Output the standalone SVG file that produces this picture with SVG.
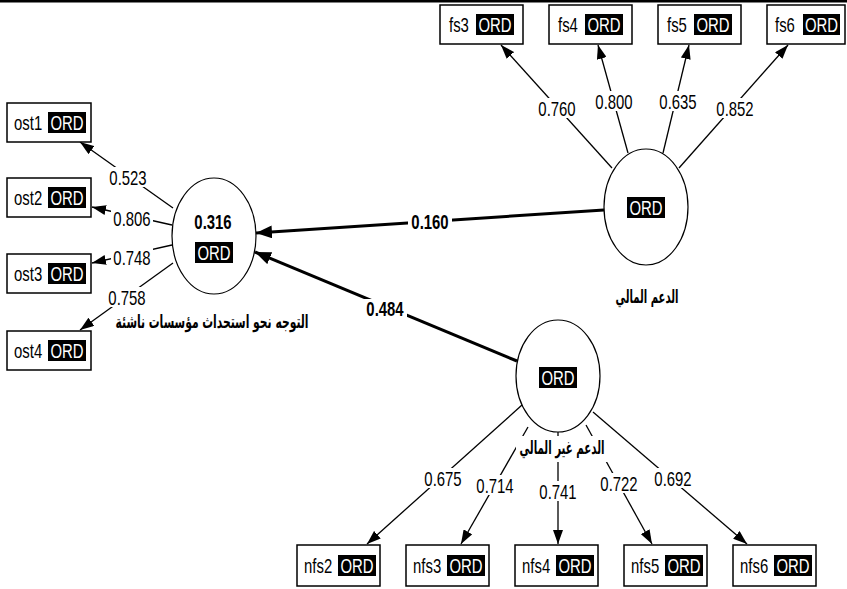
<svg xmlns="http://www.w3.org/2000/svg" width="847" height="589" viewBox="0 0 847 589">
<defs>
<style>
.t{font-family:"Liberation Sans",Arial,sans-serif;font-size:21px;fill:#000}
.b{font-weight:bold}
.w{fill:#fff}
.ar{font-family:"DejaVu Sans","Noto Sans",sans-serif;font-weight:bold;font-size:13px;fill:#000}
.box{fill:#fff;stroke:#000;stroke-width:1.5}
.ord{fill:#000}
.lv{fill:#fff;stroke:#000;stroke-width:1.2}
.ln{fill:none;stroke:#000;stroke-width:1.3}
.pth{fill:none;stroke:#000;stroke-width:3}
.bg{fill:#fff}
</style>
<marker id="ah" markerWidth="14" markerHeight="10" refX="14" refY="5" orient="auto" markerUnits="userSpaceOnUse"><path d="M0,0L14,5L0,10z" fill="#000"/></marker>
<marker id="ahb" markerWidth="16" markerHeight="13" refX="16" refY="6.5" orient="auto" markerUnits="userSpaceOnUse"><path d="M0,0L16,6.5L0,13z" fill="#000"/></marker>
</defs>
<rect x="0" y="0" width="847" height="2.5" fill="#000"/>

<g id="connectors">
<line class="pth" x1="604" y1="210" x2="256" y2="233" marker-end="url(#ahb)"/>
<line class="pth" x1="517" y1="361" x2="255" y2="252" marker-end="url(#ahb)"/>
<line class="ln" x1="612" y1="168" x2="501" y2="45" marker-end="url(#ah)"/>
<line class="ln" x1="628" y1="153" x2="598" y2="45" marker-end="url(#ah)"/>
<line class="ln" x1="663" y1="153" x2="689" y2="45" marker-end="url(#ah)"/>
<line class="ln" x1="679" y1="168" x2="788" y2="45" marker-end="url(#ah)"/>
<line class="ln" x1="173" y1="208" x2="80" y2="142" marker-end="url(#ah)"/>
<line class="ln" x1="172" y1="225" x2="92" y2="207" marker-end="url(#ah)"/>
<line class="ln" x1="172" y1="245" x2="92" y2="263" marker-end="url(#ah)"/>
<line class="ln" x1="173" y1="263" x2="80" y2="330" marker-end="url(#ah)"/>
<line class="ln" x1="522" y1="405" x2="367" y2="544" marker-end="url(#ah)"/>
<line class="ln" x1="528" y1="427" x2="461" y2="544" marker-end="url(#ah)"/>
<line class="ln" x1="558" y1="432" x2="558" y2="544" marker-end="url(#ah)"/>
<line class="ln" x1="586" y1="425" x2="652" y2="544" marker-end="url(#ah)"/>
<line class="ln" x1="593" y1="412" x2="747" y2="544" marker-end="url(#ah)"/>
<g id="labels">
<rect class="bg" x="408" y="213" width="44" height="20"/>
<text class="t b" text-anchor="middle" transform="translate(430 229) scale(0.71 1)">0.160</text>
<rect class="bg" x="363" y="299" width="44" height="20"/>
<text class="t b" text-anchor="middle" transform="translate(385 316) scale(0.71 1)">0.484</text>
<rect class="bg" x="536" y="98" width="42" height="20"/>
<text class="t" text-anchor="middle" transform="translate(557 116) scale(0.71 1)">0.760</text>
<rect class="bg" x="593" y="91" width="42" height="20"/>
<text class="t" text-anchor="middle" transform="translate(614 109) scale(0.71 1)">0.800</text>
<rect class="bg" x="657" y="91" width="42" height="20"/>
<text class="t" text-anchor="middle" transform="translate(678 109) scale(0.71 1)">0.635</text>
<rect class="bg" x="714" y="98" width="42" height="20"/>
<text class="t" text-anchor="middle" transform="translate(735 116) scale(0.71 1)">0.852</text>
<rect class="bg" x="107" y="167" width="42" height="20"/>
<text class="t" text-anchor="middle" transform="translate(128 185) scale(0.71 1)">0.523</text>
<rect class="bg" x="111" y="208" width="42" height="20"/>
<text class="t" text-anchor="middle" transform="translate(132 226) scale(0.71 1)">0.806</text>
<rect class="bg" x="111" y="247" width="42" height="20"/>
<text class="t" text-anchor="middle" transform="translate(132 265) scale(0.71 1)">0.748</text>
<rect class="bg" x="106" y="287" width="42" height="20"/>
<text class="t" text-anchor="middle" transform="translate(127 305) scale(0.71 1)">0.758</text>
<rect class="bg" x="422" y="468" width="42" height="20"/>
<text class="t" text-anchor="middle" transform="translate(443 486) scale(0.71 1)">0.675</text>
<rect class="bg" x="474" y="475" width="42" height="20"/>
<text class="t" text-anchor="middle" transform="translate(495 493) scale(0.71 1)">0.714</text>
<rect class="bg" x="537" y="481" width="42" height="20"/>
<text class="t" text-anchor="middle" transform="translate(558 499) scale(0.71 1)">0.741</text>
<rect class="bg" x="598" y="473" width="42" height="20"/>
<text class="t" text-anchor="middle" transform="translate(619 491) scale(0.71 1)">0.722</text>
<rect class="bg" x="652" y="468" width="42" height="20"/>
<text class="t" text-anchor="middle" transform="translate(673 486) scale(0.71 1)">0.692</text>
</g>
</g>

<g id="lv_ost">
<ellipse class="lv" cx="214" cy="236" rx="42" ry="58"/>
<text class="t b" text-anchor="middle" transform="translate(213 229) scale(0.71 1)">0.316</text>
<rect class="ord" x="195" y="242" width="38" height="21"/>
<text class="t w" text-anchor="middle" transform="translate(214 260) scale(0.71 1)">ORD</text>
<rect class="bg" x="113" y="314" width="198" height="20"/>
<text class="ar" text-anchor="middle" direction="rtl" transform="translate(212 328) scale(1 1.4)" textLength="193" lengthAdjust="spacingAndGlyphs">التوجه نحو استحداث مؤسسات ناشئة</text>
</g>
<g id="lv_fs">
<ellipse class="lv" cx="646" cy="207" rx="42" ry="58"/>
<rect class="ord" x="627" y="197" width="38" height="21"/>
<text class="t w" text-anchor="middle" transform="translate(646 215) scale(0.71 1)">ORD</text>
<text class="ar" text-anchor="middle" direction="rtl" transform="translate(647 303) scale(1 1.4)" textLength="63" lengthAdjust="spacingAndGlyphs">الدعم المالي</text>
</g>
<g id="lv_nfs">
<ellipse class="lv" cx="558" cy="376" rx="42" ry="56"/>
<rect class="ord" x="539" y="367" width="38" height="21"/>
<text class="t w" text-anchor="middle" transform="translate(558 385) scale(0.71 1)">ORD</text>
<rect class="bg" x="516" y="436" width="93" height="26"/>
<text class="ar" text-anchor="middle" direction="rtl" transform="translate(562 454) scale(1 1.4)" textLength="85" lengthAdjust="spacingAndGlyphs">الدعم غير المالي</text>
</g>

<g id="fs3"><rect class="box" x="440" y="5" width="83" height="39"/><text class="t" transform="translate(449 32) scale(0.71 1)">fs3</text><rect class="ord" x="476" y="14" width="38" height="21"/><text class="t w" text-anchor="middle" transform="translate(495 32) scale(0.71 1)">ORD</text></g>
<g id="fs4"><rect class="box" x="549" y="5" width="83" height="39"/><text class="t" transform="translate(558 32) scale(0.71 1)">fs4</text><rect class="ord" x="585" y="14" width="38" height="21"/><text class="t w" text-anchor="middle" transform="translate(604 32) scale(0.71 1)">ORD</text></g>
<g id="fs5"><rect class="box" x="658" y="5" width="83" height="39"/><text class="t" transform="translate(667 32) scale(0.71 1)">fs5</text><rect class="ord" x="694" y="14" width="38" height="21"/><text class="t w" text-anchor="middle" transform="translate(713 32) scale(0.71 1)">ORD</text></g>
<g id="fs6"><rect class="box" x="767" y="5" width="78" height="39"/><text class="t" transform="translate(775 32) scale(0.71 1)">fs6</text><rect class="ord" x="803" y="14" width="37" height="21"/><text class="t w" text-anchor="middle" transform="translate(821.5 32) scale(0.71 1)">ORD</text></g>

<g id="ost1"><rect class="box" x="7" y="103" width="84" height="39"/><text class="t" transform="translate(14 130) scale(0.71 1)">ost1</text><rect class="ord" x="48" y="112" width="38" height="21"/><text class="t w" text-anchor="middle" transform="translate(67 130) scale(0.71 1)">ORD</text></g>
<g id="ost2"><rect class="box" x="7" y="178" width="84" height="39"/><text class="t" transform="translate(14 205) scale(0.71 1)">ost2</text><rect class="ord" x="48" y="187" width="38" height="21"/><text class="t w" text-anchor="middle" transform="translate(67 205) scale(0.71 1)">ORD</text></g>
<g id="ost3"><rect class="box" x="7" y="254" width="84" height="39"/><text class="t" transform="translate(14 281) scale(0.71 1)">ost3</text><rect class="ord" x="48" y="263" width="38" height="21"/><text class="t w" text-anchor="middle" transform="translate(67 281) scale(0.71 1)">ORD</text></g>
<g id="ost4"><rect class="box" x="7" y="331" width="84" height="39"/><text class="t" transform="translate(14 358) scale(0.71 1)">ost4</text><rect class="ord" x="48" y="340" width="38" height="21"/><text class="t w" text-anchor="middle" transform="translate(67 358) scale(0.71 1)">ORD</text></g>

<g id="nfs2"><rect class="box" x="297" y="545" width="83" height="41"/><text class="t" transform="translate(304 573) scale(0.71 1)">nfs2</text><rect class="ord" x="338" y="555" width="38" height="21"/><text class="t w" text-anchor="middle" transform="translate(357 573) scale(0.71 1)">ORD</text></g>
<g id="nfs3"><rect class="box" x="406" y="545" width="83" height="41"/><text class="t" transform="translate(413 573) scale(0.71 1)">nfs3</text><rect class="ord" x="447" y="555" width="38" height="21"/><text class="t w" text-anchor="middle" transform="translate(466 573) scale(0.71 1)">ORD</text></g>
<g id="nfs4"><rect class="box" x="515" y="545" width="83" height="41"/><text class="t" transform="translate(522 573) scale(0.71 1)">nfs4</text><rect class="ord" x="556" y="555" width="38" height="21"/><text class="t w" text-anchor="middle" transform="translate(575 573) scale(0.71 1)">ORD</text></g>
<g id="nfs5"><rect class="box" x="624" y="545" width="83" height="41"/><text class="t" transform="translate(631 573) scale(0.71 1)">nfs5</text><rect class="ord" x="665" y="555" width="38" height="21"/><text class="t w" text-anchor="middle" transform="translate(684 573) scale(0.71 1)">ORD</text></g>
<g id="nfs6"><rect class="box" x="733" y="545" width="83" height="41"/><text class="t" transform="translate(740 573) scale(0.71 1)">nfs6</text><rect class="ord" x="774" y="555" width="38" height="21"/><text class="t w" text-anchor="middle" transform="translate(793 573) scale(0.71 1)">ORD</text></g>
</svg>
